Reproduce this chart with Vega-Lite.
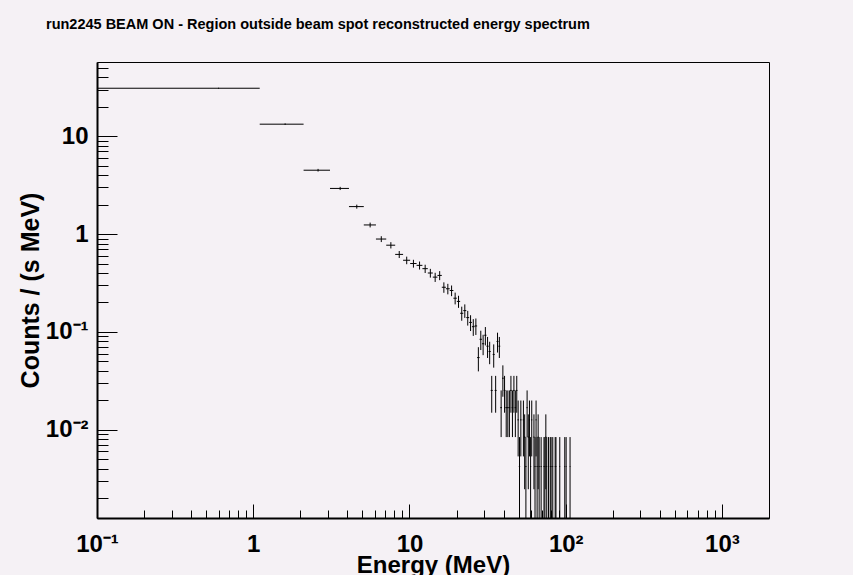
{
  "$schema": "https://vega.github.io/schema/vega-lite/v6.json",
  "width": 672,
  "height": 456,
  "autosize": {"type": "none"},
  "padding": {"left": 97, "top": 62, "right": 84, "bottom": 57},
  "background": "#f5f1f5",
  "title": {
    "text": "run2245 BEAM ON - Region outside beam spot reconstructed energy spectrum",
    "anchor": "start",
    "frame": "group",
    "dx": -51,
    "offset": 12,
    "baseline": "alphabetic",
    "font": "Liberation Sans",
    "fontSize": 14.5,
    "fontWeight": "bold",
    "color": "#000000"
  },
  "config": {
    "view": {"stroke": "#000000", "strokeWidth": 1, "fill": "#f5f1f5"},
    "axis": {
      "grid": false,
      "domainColor": "#000000",
      "domainWidth": 2,
      "tickColor": "#000000",
      "tickWidth": 1,
      "labelFont": "Liberation Sans",
      "labelFontWeight": "bold",
      "labelColor": "#000000",
      "labelOverlap": false,
      "labelFlush": false,
      "titleFont": "Liberation Sans",
      "titleFontWeight": "bold",
      "titleColor": "#000000"
    }
  },
  "data": {
    "values": [
      {"lo": 0.1, "hi": 1.1, "c": 0.6, "v": 31, "vlo": 30.64, "vhi": 31.36},
      {"lo": 1.1, "hi": 2.1, "c": 1.6, "v": 13.3, "vlo": 13.06, "vhi": 13.54},
      {"lo": 2.1, "hi": 3.1, "c": 2.6, "v": 4.5, "vlo": 4.36, "vhi": 4.64},
      {"lo": 3.1, "hi": 4.1, "c": 3.6, "v": 2.93, "vlo": 2.82, "vhi": 3.04},
      {"lo": 4.1, "hi": 5.1, "c": 4.6, "v": 1.91, "vlo": 1.82, "vhi": 2.0},
      {"lo": 5.1, "hi": 6.1, "c": 5.6, "v": 1.24, "vlo": 1.17, "vhi": 1.31},
      {"lo": 6.1, "hi": 7.1, "c": 6.6, "v": 0.89, "vlo": 0.829, "vhi": 0.951},
      {"lo": 7.1, "hi": 8.1, "c": 7.6, "v": 0.77, "vlo": 0.713, "vhi": 0.827},
      {"lo": 8.1, "hi": 9.1, "c": 8.6, "v": 0.62, "vlo": 0.569, "vhi": 0.671},
      {"lo": 9.1, "hi": 10.1, "c": 9.6, "v": 0.54, "vlo": 0.492, "vhi": 0.588},
      {"lo": 10.1, "hi": 11.1, "c": 10.6, "v": 0.5, "vlo": 0.454, "vhi": 0.546},
      {"lo": 11.1, "hi": 12.1, "c": 11.6, "v": 0.479, "vlo": 0.434, "vhi": 0.524},
      {"lo": 12.1, "hi": 13.1, "c": 12.6, "v": 0.443, "vlo": 0.4, "vhi": 0.486},
      {"lo": 13.1, "hi": 14.1, "c": 13.6, "v": 0.4, "vlo": 0.359, "vhi": 0.441},
      {"lo": 14.1, "hi": 15.1, "c": 14.6, "v": 0.363, "vlo": 0.324, "vhi": 0.402},
      {"lo": 15.1, "hi": 16.1, "c": 15.6, "v": 0.378, "vlo": 0.338, "vhi": 0.418},
      {"lo": 16.1, "hi": 17.1, "c": 16.6, "v": 0.286, "vlo": 0.251, "vhi": 0.321},
      {"lo": 17.1, "hi": 18.1, "c": 17.6, "v": 0.276, "vlo": 0.242, "vhi": 0.31},
      {"lo": 18.1, "hi": 19.1, "c": 18.6, "v": 0.265, "vlo": 0.232, "vhi": 0.298},
      {"lo": 19.1, "hi": 20.1, "c": 19.6, "v": 0.221, "vlo": 0.191, "vhi": 0.252},
      {"lo": 20.1, "hi": 21.1, "c": 20.6, "v": 0.205, "vlo": 0.176, "vhi": 0.234},
      {"lo": 21.1, "hi": 22.1, "c": 21.6, "v": 0.155, "vlo": 0.13, "vhi": 0.181},
      {"lo": 22.1, "hi": 23.1, "c": 22.6, "v": 0.165, "vlo": 0.139, "vhi": 0.191},
      {"lo": 23.1, "hi": 24.1, "c": 23.6, "v": 0.14, "vlo": 0.116, "vhi": 0.164},
      {"lo": 24.1, "hi": 25.1, "c": 24.6, "v": 0.125, "vlo": 0.102, "vhi": 0.148},
      {"lo": 25.1, "hi": 26.1, "c": 25.6, "v": 0.113, "vlo": 0.091, "vhi": 0.135},
      {"lo": 26.1, "hi": 27.1, "c": 26.6, "v": 0.115, "vlo": 0.093, "vhi": 0.137},
      {"lo": 27.1, "hi": 28.1, "c": 27.6, "v": 0.0546, "vlo": 0.03946, "vhi": 0.06974},
      {"lo": 28.1, "hi": 29.1, "c": 28.6, "v": 0.084, "vlo": 0.06522, "vhi": 0.10278},
      {"lo": 29.1, "hi": 30.1, "c": 29.6, "v": 0.0756, "vlo": 0.05778, "vhi": 0.09342},
      {"lo": 30.1, "hi": 31.1, "c": 30.6, "v": 0.0924, "vlo": 0.0727, "vhi": 0.1121},
      {"lo": 31.1, "hi": 32.1, "c": 31.6, "v": 0.0714, "vlo": 0.05408, "vhi": 0.08872},
      {"lo": 32.1, "hi": 33.1, "c": 32.6, "v": 0.063, "vlo": 0.04673, "vhi": 0.07927},
      {"lo": 33.1, "hi": 34.1, "c": 33.6, "v": 0.0252, "vlo": 0.01491, "vhi": 0.03549},
      {"lo": 34.1, "hi": 35.1, "c": 34.6, "v": 0.0588, "vlo": 0.04309, "vhi": 0.07451},
      {"lo": 35.1, "hi": 36.1, "c": 35.6, "v": 0.0252, "vlo": 0.01491, "vhi": 0.03549},
      {"lo": 36.1, "hi": 37.1, "c": 36.6, "v": 0.0798, "vlo": 0.06149, "vhi": 0.09811},
      {"lo": 37.1, "hi": 38.1, "c": 37.6, "v": 0.0714, "vlo": 0.05408, "vhi": 0.08872},
      {"lo": 38.1, "hi": 39.1, "c": 38.6, "v": 0.0168, "vlo": 0.0084, "vhi": 0.0252},
      {"lo": 39.1, "hi": 40.1, "c": 39.6, "v": 0.0336, "vlo": 0.02172, "vhi": 0.04548},
      {"lo": 40.1, "hi": 41.1, "c": 40.6, "v": 0.0252, "vlo": 0.01491, "vhi": 0.03549},
      {"lo": 41.1, "hi": 42.1, "c": 41.6, "v": 0.0168, "vlo": 0.0084, "vhi": 0.0252},
      {"lo": 42.1, "hi": 43.1, "c": 42.6, "v": 0.0168, "vlo": 0.0084, "vhi": 0.0252},
      {"lo": 43.1, "hi": 44.1, "c": 43.6, "v": 0.0168, "vlo": 0.0084, "vhi": 0.0252},
      {"lo": 44.1, "hi": 45.1, "c": 44.6, "v": 0.0252, "vlo": 0.01491, "vhi": 0.03549},
      {"lo": 45.1, "hi": 46.1, "c": 45.6, "v": 0.0168, "vlo": 0.0084, "vhi": 0.0252},
      {"lo": 46.1, "hi": 47.1, "c": 46.6, "v": 0.0252, "vlo": 0.01491, "vhi": 0.03549},
      {"lo": 47.1, "hi": 48.1, "c": 47.6, "v": 0.0168, "vlo": 0.0084, "vhi": 0.0252},
      {"lo": 48.1, "hi": 49.1, "c": 48.6, "v": 0.0252, "vlo": 0.01491, "vhi": 0.03549},
      {"lo": 49.1, "hi": 50.1, "c": 49.6, "v": 0.0126, "vlo": 0.00533, "vhi": 0.01987},
      {"lo": 50.1, "hi": 51.1, "c": 50.6, "v": 0.0042, "vlo": 0.0005, "vhi": 0.0084},
      {"lo": 51.1, "hi": 52.1, "c": 51.6, "v": 0.0126, "vlo": 0.00533, "vhi": 0.01987},
      {"lo": 53.1, "hi": 54.1, "c": 53.6, "v": 0.0126, "vlo": 0.00533, "vhi": 0.01987},
      {"lo": 54.1, "hi": 55.1, "c": 54.6, "v": 0.0084, "vlo": 0.00246, "vhi": 0.01434},
      {"lo": 55.1, "hi": 56.1, "c": 55.6, "v": 0.0042, "vlo": 0.0005, "vhi": 0.0084},
      {"lo": 56.1, "hi": 57.1, "c": 56.6, "v": 0.0168, "vlo": 0.0084, "vhi": 0.0252},
      {"lo": 57.1, "hi": 58.1, "c": 57.6, "v": 0.0084, "vlo": 0.00246, "vhi": 0.01434},
      {"lo": 58.1, "hi": 59.1, "c": 58.6, "v": 0.0126, "vlo": 0.00533, "vhi": 0.01987},
      {"lo": 59.1, "hi": 60.1, "c": 59.6, "v": 0.0042, "vlo": 0.0005, "vhi": 0.0084},
      {"lo": 60.1, "hi": 61.1, "c": 60.6, "v": 0.0126, "vlo": 0.00533, "vhi": 0.01987},
      {"lo": 62.1, "hi": 63.1, "c": 62.6, "v": 0.0084, "vlo": 0.00246, "vhi": 0.01434},
      {"lo": 63.1, "hi": 64.1, "c": 63.6, "v": 0.0042, "vlo": 0.0005, "vhi": 0.0084},
      {"lo": 64.1, "hi": 65.1, "c": 64.6, "v": 0.0126, "vlo": 0.00533, "vhi": 0.01987},
      {"lo": 65.1, "hi": 66.1, "c": 65.6, "v": 0.0042, "vlo": 0.0005, "vhi": 0.0084},
      {"lo": 66.1, "hi": 67.1, "c": 66.6, "v": 0.0084, "vlo": 0.00246, "vhi": 0.01434},
      {"lo": 67.1, "hi": 68.1, "c": 67.6, "v": 0.0042, "vlo": 0.0005, "vhi": 0.0084},
      {"lo": 69.1, "hi": 70.1, "c": 69.6, "v": 0.0042, "vlo": 0.0005, "vhi": 0.0084},
      {"lo": 72.1, "hi": 73.1, "c": 72.6, "v": 0.0042, "vlo": 0.0005, "vhi": 0.0084},
      {"lo": 73.1, "hi": 74.1, "c": 73.6, "v": 0.0042, "vlo": 0.0005, "vhi": 0.0084},
      {"lo": 74.1, "hi": 75.1, "c": 74.6, "v": 0.0084, "vlo": 0.00246, "vhi": 0.01434},
      {"lo": 75.1, "hi": 76.1, "c": 75.6, "v": 0.0042, "vlo": 0.0005, "vhi": 0.0084},
      {"lo": 77.1, "hi": 78.1, "c": 77.6, "v": 0.0042, "vlo": 0.0005, "vhi": 0.0084},
      {"lo": 79.1, "hi": 80.1, "c": 79.6, "v": 0.0042, "vlo": 0.0005, "vhi": 0.0084},
      {"lo": 80.1, "hi": 81.1, "c": 80.6, "v": 0.0042, "vlo": 0.0005, "vhi": 0.0084},
      {"lo": 82.1, "hi": 83.1, "c": 82.6, "v": 0.0042, "vlo": 0.0005, "vhi": 0.0084},
      {"lo": 85.1, "hi": 86.1, "c": 85.6, "v": 0.0042, "vlo": 0.0005, "vhi": 0.0084},
      {"lo": 86.1, "hi": 87.1, "c": 86.6, "v": 0.0042, "vlo": 0.0005, "vhi": 0.0084},
      {"lo": 91.1, "hi": 92.1, "c": 91.6, "v": 0.0042, "vlo": 0.0005, "vhi": 0.0084},
      {"lo": 98.1, "hi": 99.1, "c": 98.6, "v": 0.0042, "vlo": 0.0005, "vhi": 0.0084},
      {"lo": 100.1, "hi": 101.1, "c": 100.6, "v": 0.0042, "vlo": 0.0005, "vhi": 0.0084},
      {"lo": 106.1, "hi": 107.1, "c": 106.6, "v": 0.0042, "vlo": 0.0005, "vhi": 0.0084}
    ]
  },
  "layer": [
    {
      "mark": {"type": "rule", "color": "#000000", "strokeWidth": 1, "clip": true},
      "encoding": {
        "x": {
          "field": "lo",
          "type": "quantitative",
          "scale": {"type": "log", "domain": [0.1, 2000], "nice": false},
          "axis": {
            "title": "Energy (MeV)",
            "titleFontSize": 24,
            "titlePadding": -9,
            "values": [0.1, 0.2, 0.3, 0.4, 0.5, 0.6, 0.7, 0.8, 0.9, 1, 2, 3, 4, 5, 6, 7, 8, 9, 10, 20, 30, 40, 50, 60, 70, 80, 90, 100, 200, 300, 400, 500, 600, 700, 800, 900, 1000],
            "labelExpr": "datum.value == 0.1 ? '10⁻¹' : datum.value == 1 ? '1' : datum.value == 10 ? '10' : datum.value == 100 ? '10²' : datum.value == 1000 ? '10³' : ''",
            "labelFontSize": 24,
            "labelPadding": 28,
            "tickSize": {"condition": {"test": "indexof([0.1, 1, 10, 100, 1000], datum.value) >= 0", "value": -14}, "value": -8}
          }
        },
        "x2": {"field": "hi"},
        "y": {
          "field": "v",
          "type": "quantitative",
          "scale": {"type": "log", "domain": [0.00125, 57.5], "nice": false},
          "axis": {
            "title": "Counts / (s MeV)",
            "titleFontSize": 25,
            "titlePadding": 2,
            "values": [0.002, 0.003, 0.004, 0.005, 0.006, 0.007, 0.008, 0.009, 0.01, 0.02, 0.03, 0.04, 0.05, 0.06, 0.07, 0.08, 0.09, 0.1, 0.2, 0.3, 0.4, 0.5, 0.6, 0.7, 0.8, 0.9, 1, 2, 3, 4, 5, 6, 7, 8, 9, 10, 20, 30, 40, 50],
            "labelExpr": "datum.value == 0.01 ? '10⁻²' : datum.value == 0.1 ? '10⁻¹' : datum.value == 1 ? '1' : datum.value == 10 ? '10' : ''",
            "labelFontSize": 24,
            "labelPadding": 29,
            "tickSize": {"condition": {"test": "indexof([0.01, 0.1, 1, 10], datum.value) >= 0", "value": -20}, "value": -11}
          }
        }
      }
    },
    {
      "mark": {"type": "rule", "color": "#000000", "strokeWidth": 1, "clip": true},
      "encoding": {
        "x": {"field": "c", "type": "quantitative", "title": "Energy (MeV)"},
        "y": {"field": "vlo", "type": "quantitative", "title": "Counts / (s MeV)"},
        "y2": {"field": "vhi"}
      }
    }
  ]
}
